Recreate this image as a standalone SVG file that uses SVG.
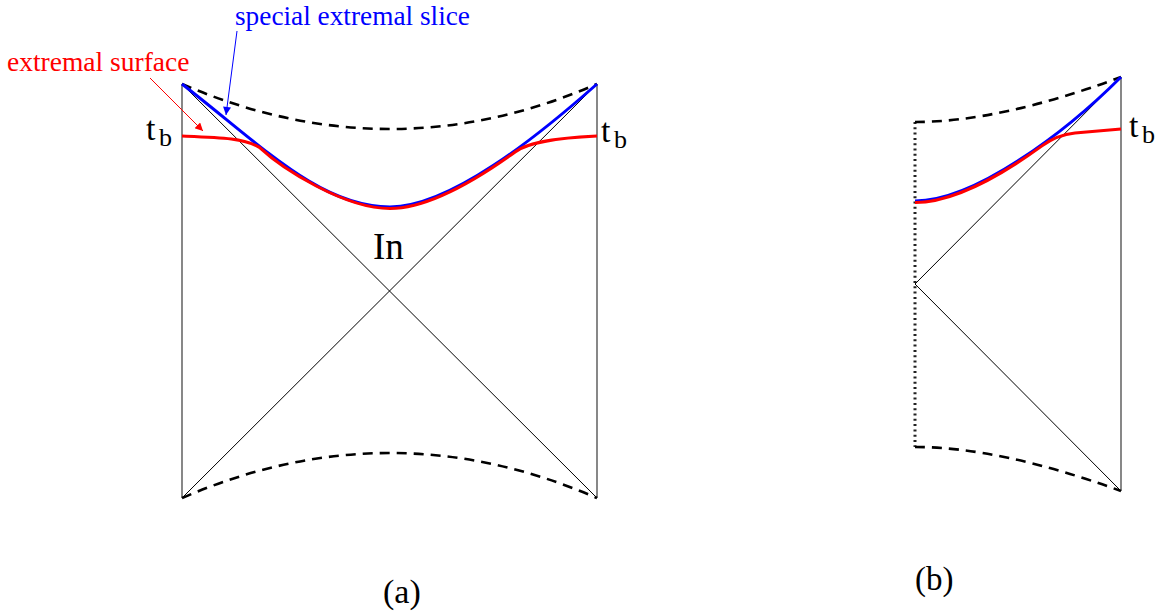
<svg xmlns="http://www.w3.org/2000/svg" width="1164" height="611" viewBox="0 0 1164 611">
<defs>
<style>
.thin{fill:none;stroke:#000;stroke-width:1}
.bound{fill:none;stroke:#555;stroke-width:1.4}
.dash{fill:none;stroke:#000;stroke-width:2.6;stroke-dasharray:10 7}
.dot{fill:none;stroke:#222;stroke-width:3;stroke-dasharray:2 3.3}
.blue{fill:none;stroke:#0000ff;stroke-width:3}
.red{fill:none;stroke:#ff0000;stroke-width:3}
.lab{font-family:"Liberation Serif","Times New Roman",serif;fill:#000}
</style>
<marker id="ahr" viewBox="0 0 10 10" refX="10" refY="5" markerWidth="12" markerHeight="8" markerUnits="userSpaceOnUse" orient="auto"><path d="M0,0 L10,5 L0,10 z" fill="#ff0000"/></marker>
<marker id="ahb" viewBox="0 0 10 10" refX="10" refY="5" markerWidth="12" markerHeight="8" markerUnits="userSpaceOnUse" orient="auto"><path d="M0,0 L10,5 L0,10 z" fill="#0000ff"/></marker>
</defs>
<rect width="1164" height="611" fill="#fff"/>

<g id="diagram-a">
<line class="bound" x1="182" y1="84" x2="182" y2="498"/>
<line class="bound" x1="597" y1="84" x2="597" y2="498"/>
<line class="thin" x1="182" y1="84" x2="597" y2="498"/>
<line class="thin" x1="597" y1="84" x2="182" y2="498"/>
<path class="dash" d="M182,84 Q390,174 597,84"/>
<path class="dash" d="M182,498 Q390,408 597,498"/>
<path class="blue" d="M182,84 C262,146 320,207 390,207 C450,207 537,137 597,84"/>
<path class="red" d="M182,136 C222,137.5 244,138 259.4,147.4 C282.3,168.8 344.5,208.5 390,208.5 C426,208.5 471.7,183.3 515.5,151.7 C525.5,144.5 545,138.5 597,136"/>
<text class="lab" x="373" y="259" font-size="37">In</text>
<text class="lab" x="146" y="140" font-size="34">t</text>
<text class="lab" x="159" y="146" font-size="26">b</text>
<text class="lab" x="601" y="142" font-size="34">t</text>
<text class="lab" x="614" y="148" font-size="26">b</text>
<text class="lab" x="383" y="603" font-size="34">(a)</text>
</g>

<g id="diagram-b">
<line class="bound" x1="1121" y1="77" x2="1121" y2="491"/>
<line class="dot" x1="915" y1="122" x2="915" y2="447"/>
<line class="thin" x1="1121" y1="77" x2="915" y2="284"/>
<line class="thin" x1="915" y1="284" x2="1121" y2="491"/>
<path class="dash" d="M915,122 Q1000,122 1121,77"/>
<path class="dash" d="M915,447 Q1000,447 1121,491"/>
<path class="blue" d="M915,201 C975,201 1066,132 1121,77"/>
<path class="red" d="M915,202.5 C951,202.5 998.2,177.7 1042,145.9 C1051,139.3 1060,134.5 1075,133 L1121,129"/>
<text class="lab" x="1129" y="137" font-size="34">t</text>
<text class="lab" x="1142" y="143" font-size="26">b</text>
<text class="lab" x="915" y="590" font-size="33">(b)</text>
</g>

<g id="annotations">
<text id="lbl-extremal-surface" class="lab" x="7" y="71" font-size="27.5" style="fill:#ff0000">extremal surface</text>
<text id="lbl-special-slice" class="lab" x="235" y="25" font-size="27.3" style="fill:#0000ff">special extremal slice</text>
</g>

<g id="connectors">
<line x1="150" y1="78" x2="203" y2="131" stroke="#ff0000" stroke-width="1" marker-end="url(#ahr)"/>
<line x1="237" y1="31" x2="226" y2="115" stroke="#0000ff" stroke-width="1" marker-end="url(#ahb)"/>
</g>
</svg>
